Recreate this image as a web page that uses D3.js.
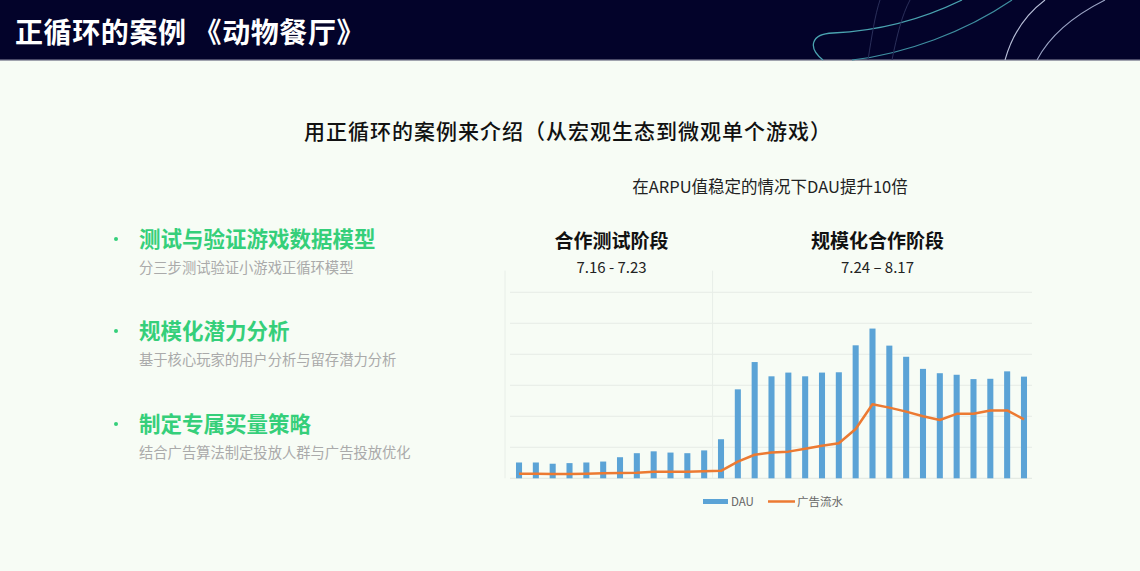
<!DOCTYPE html>
<html><head><meta charset="utf-8">
<script src="https://cdn.jsdelivr.net/npm/d3@7"></script>
<style>
html,body{margin:0;padding:0;background:#f7fcf5;}
svg{display:block;font-family:"Noto Sans CJK SC","Noto Sans",sans-serif;}
</style></head>
<body>
<svg id="c" width="1140" height="571"></svg>
<script>
// ---- data ----
const days = d3.range(1, 32).map(d => "D" + d);
const dauValues = [5.1,5.1,4.7,4.9,5.1,5.4,6.8,8.1,8.7,8.3,8.1,9.0,12.6,28.7,37.5,32.9,34.1,32.9,34.1,34.2,42.9,48.3,42.8,39.2,35.3,33.9,33.4,32.0,32.1,34.5,32.8];
const revenueValues = [1.5,1.5,1.4,1.4,1.5,1.6,1.7,1.8,2.1,2.1,2.1,2.3,2.4,5.4,7.6,8.3,8.6,9.5,10.5,11.3,15.9,23.9,22.8,21.5,20.0,18.8,20.8,20.8,21.9,21.9,19.0];
const yTicks = [0,10,20,30,40,50,60];
const phases = [
  {name:"合作测试阶段", range:"7.16 - 7.23", from:0, to:11},
  {name:"规模化合作阶段", range:"7.24 – 8.17", from:12, to:30}
];
const bullets = [
  {title:"测试与验证游戏数据模型", sub:"分三步测试验证小游戏正循环模型"},
  {title:"规模化潜力分析", sub:"基于核心玩家的用户分析与留存潜力分析"},
  {title:"制定专属买量策略", sub:"结合广告算法制定投放人群与广告投放优化"}
];
const legendItems = [{name:"DAU", type:"bar"},{name:"广告流水", type:"line"}];

const svg = d3.select("#c");
const W = 1140, H = 571;

// background
svg.append("rect").attr("width",W).attr("height",H).attr("fill","#f7fcf5");

// header band
svg.append("rect").attr("width",W).attr("height",60).attr("fill","#03032a");
svg.append("rect").attr("y",59).attr("width",W).attr("height",1.5).attr("fill","#4a4a68");
const deco = svg.append("g").attr("fill","none");
deco.append("path").attr("d","M823,60 C808,48 810,34 833,33 C880,31 925,18 962,0").attr("stroke","#4aa3b0").attr("stroke-width",1.3);
deco.append("path").attr("d","M852,60 C905,54 965,32 1012,0").attr("stroke","#3f8fa0").attr("stroke-width",1.2);
deco.append("path").attr("d","M1005,60 C1012,35 1025,15 1045,0").attr("stroke","#b8bfd8").attr("stroke-width",1.1);
deco.append("path").attr("d","M1037,60 C1050,35 1075,15 1105,0").attr("stroke","#9aa3c4").attr("stroke-width",1.1);
deco.append("path").attr("d","M868,60 C872,35 875,15 880,0").attr("stroke","#2a2f5a").attr("stroke-width",1);
deco.append("path").attr("d","M892,60 C897,35 902,15 910,0").attr("stroke","#2a2f5a").attr("stroke-width",1);

svg.append("text").attr("x",15).attr("y",43).attr("fill","#ffffff")
  .attr("font-size",28).attr("font-weight","bold").attr("letter-spacing",0.6).text("正循环的案例 《动物餐厅》");

// subtitle
svg.append("text").attr("x",568).attr("y",139).attr("text-anchor","middle")
  .attr("fill","#111").attr("font-size",21).attr("font-weight",500).attr("letter-spacing",1)
  .text("用正循环的案例来介绍（从宏观生态到微观单个游戏）");

// bullets
const by = [239, 331, 424];
bullets.forEach((b,i)=>{
  svg.append("circle").attr("cx",116).attr("cy",by[i]).attr("r",2).attr("fill","#35cf7a");
  svg.append("text").attr("x",139).attr("y",by[i]+7.5).attr("fill","#35cf7a")
    .attr("font-size",21.5).attr("font-weight","bold").text(b.title);
  svg.append("text").attr("x",139).attr("y",by[i]+34).attr("fill","#aaaaaa")
    .attr("font-size",14.3).text(b.sub);
});

// chart
const x = d3.scaleBand().domain(days).range([510.6, 1032.4]).paddingInner(0.64).paddingOuter(0.32);
const y = d3.scaleLinear().domain([0,60]).range([478.3, 292.3]);

svg.append("text").attr("x",770).attr("y",193).attr("text-anchor","middle")
  .attr("fill","#222").attr("font-size",16.5).text("在ARPU值稳定的情况下DAU提升10倍");

// gridlines
const g = svg.append("g");
g.selectAll("line.grid").data(yTicks.slice(1)).join("line")
  .attr("x1",510).attr("x2",1032).attr("y1",d=>y(d)).attr("y2",d=>y(d))
  .attr("stroke","#e6ece6").attr("stroke-width",1);
g.append("line").attr("x1",510).attr("x2",1032).attr("y1",y(0)).attr("y2",y(0))
  .attr("stroke","#e0e6e0");

// vertical separators
const sepX = (x(days[11]) + x.bandwidth()/2 + x(days[12]) + x.bandwidth()/2)/2;
[505, sepX].forEach(vx=>{
  g.append("line").attr("x1",vx).attr("x2",vx).attr("y1",y(67)).attr("y2",y(0))
    .attr("stroke","#e8eee8").attr("stroke-width",1);
});

// phase labels (centred over each phase region)
phases.forEach((p,i)=>{
  const left = i === 0 ? x(days[p.from]) : sepX;
  const right = i === 0 ? x(days[p.to]) + x.bandwidth() : x.range()[1] + 10;
  const cx = (left + right)/2;
  svg.append("text").attr("x",cx).attr("y",248).attr("text-anchor","middle")
    .attr("fill","#111").attr("font-size",19).attr("font-weight","bold").text(p.name);
  svg.append("text").attr("x",cx).attr("y",273).attr("text-anchor","middle")
    .attr("fill","#222").attr("font-size",15).text(p.range);
});

// bars
svg.append("g").selectAll("rect").data(dauValues).join("rect")
  .attr("x",(d,i)=>x(days[i])).attr("width",x.bandwidth())
  .attr("y",d=>y(d)).attr("height",d=>y(0)-y(d)).attr("fill","#5ba3d6");

// line
const line = d3.line().x((d,i)=>x(days[i])+x.bandwidth()/2).y(d=>y(d));
svg.append("path").datum(revenueValues).attr("d",line).attr("fill","none")
  .attr("stroke","#ec7a32").attr("stroke-width",2.5).attr("stroke-linejoin","round");

// legend
const lg = svg.append("g");
lg.append("rect").attr("x",703).attr("y",499).attr("width",25).attr("height",5).attr("fill","#5ba3d6");
lg.append("text").attr("x",731).attr("y",506).attr("font-size",11.5).attr("fill","#666").text(legendItems[0].name);
lg.append("line").attr("x1",768).attr("x2",795).attr("y1",501.5).attr("y2",501.5).attr("stroke","#ec7a32").attr("stroke-width",2.5);
lg.append("text").attr("x",797).attr("y",506).attr("font-size",11.5).attr("fill","#666").text(legendItems[1].name);
</script>
</body></html>
